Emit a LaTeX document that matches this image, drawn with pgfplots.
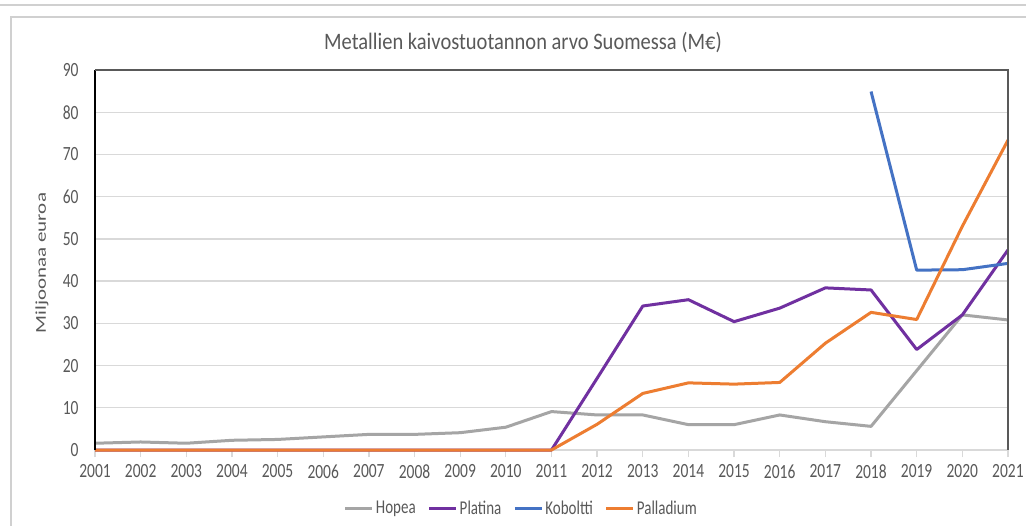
\documentclass[border=0pt]{standalone}
\usepackage{graphicx}
\usepackage{pgfplots}
\pgfplotsset{compat=1.18}
\usepackage{fontspec}
\setmainfont{Carlito}
\definecolor{hopea}{HTML}{A5A5A5}
\definecolor{platina}{HTML}{7030A0}
\definecolor{koboltti}{HTML}{4472C4}
\definecolor{palladium}{HTML}{ED7D31}
\definecolor{txt}{HTML}{595959}
\definecolor{gridc}{HTML}{D9D9D9}
\definecolor{frame}{HTML}{D0D0D0}
\newcommand\vs[1]{\scalebox{1}[1.3]{#1}}
\begin{document}
\begin{tikzpicture}
\useasboundingbox (0pt,0pt) rectangle (1026pt,-526pt);
\fill[white] (0pt,0pt) rectangle (1026pt,-526pt);
\draw[frame, line width=1.5pt] (0pt,-5pt) -- (1026pt,-5pt);
\draw[frame, line width=1.5pt] (11pt,-526pt) -- (11pt,-17pt) -- (1026pt,-17pt);
\node[font=\fontsize{20.5}{24}\selectfont, text=txt] at (523pt,-43pt) {\scalebox{1}[1.15]{Metallien kaivostuotannon arvo Suomessa (M€)}};
\node[rotate=90, text=txt, font=\fontsize{15}{18}\selectfont] at (42pt,-263pt) {\scalebox{1.4}[1]{Miljoonaa euroa}};
\begin{axis}[
  at={(95pt,-450pt)}, anchor=south west,
  scale only axis, width=913pt, height=380pt,
  xmin=2001, xmax=2021, ymin=0, ymax=90,
  xtick={2001,2002,...,2021}, ytick={0,10,...,90},
  xtick pos=lower, ytick pos=left,
  /pgf/number format/assume math mode=true,
  /pgf/number format/1000 sep={},
  xticklabel={\vs{\pgfmathprintnumber{\tick}}},
  yticklabel={\vs{\pgfmathprintnumber{\tick}}},
  axis line style={draw=none},
  ymajorgrids, grid style={gridc, line width=1.3pt},
  xtick align=outside, major tick length=7pt,
  xtick style={gridc, line width=1.3pt},
  ytick style={draw=none},
  xticklabel style={font=\fontsize{15.5}{18}\selectfont, text=txt, yshift=-4pt},
  yticklabel style={font=\fontsize{15.5}{18}\selectfont, text=txt, xshift=-13pt},
  clip=false,
  legend style={at={(0.467,-0.153)}, anchor=center, draw=none, fill=none,
    legend columns=4, font=\fontsize{15}{18}\selectfont, text=txt,
    /tikz/every even column/.append style={column sep=10pt},
    inner sep=0pt, cells={anchor=west}},
  legend image code/.code={\draw[#1, line width=3pt] (0pt,0pt) -- (27pt,0pt);},
  every axis plot/.append style={line width=3pt, line join=round, mark=none},
]
\draw[gridc, line width=1.3pt] (rel axis cs:0,0) -- (rel axis cs:1,0);
\addplot[hopea] coordinates {(2001,1.6) (2002,1.9) (2003,1.6) (2004,2.3) (2005,2.5) (2006,3.1) (2007,3.7) (2008,3.7) (2009,4.1) (2010,5.4) (2011,9.1) (2012,8.3) (2013,8.3) (2014,6.0) (2015,6.0) (2016,8.3) (2017,6.7) (2018,5.6) (2019,18.8) (2020,32.0) (2021,30.8)};
\addlegendentry{\vs{Hopea}}
\addplot[platina] coordinates {(2001,0) (2002,0) (2003,0) (2004,0) (2005,0) (2006,0) (2007,0) (2008,0) (2009,0) (2010,0) (2011,0) (2012,17.0) (2013,34.1) (2014,35.6) (2015,30.4) (2016,33.6) (2017,38.4) (2018,37.9) (2019,23.8) (2020,32.0) (2021,47.4)};
\addlegendentry{\vs{Platina}}
\addplot[koboltti] coordinates {(2018,84.9) (2019,42.6) (2020,42.7) (2021,44.2)};
\addlegendentry{\vs{Koboltti}}
\addplot[palladium] coordinates {(2001,0) (2002,0) (2003,0) (2004,0) (2005,0) (2006,0) (2007,0) (2008,0) (2009,0) (2010,0) (2011,0) (2012,6.1) (2013,13.4) (2014,15.9) (2015,15.6) (2016,16.0) (2017,25.3) (2018,32.6) (2019,30.9) (2020,53.0) (2021,73.4)};
\addlegendentry{\vs{Palladium}}
\draw[black, line width=1.5pt] (rel axis cs:0,0) -- (rel axis cs:0,1);
\draw[black!65, line width=2pt] (rel axis cs:0,1) -- (rel axis cs:1,1) -- (rel axis cs:1,0);
\end{axis}
\end{tikzpicture}
\end{document}
